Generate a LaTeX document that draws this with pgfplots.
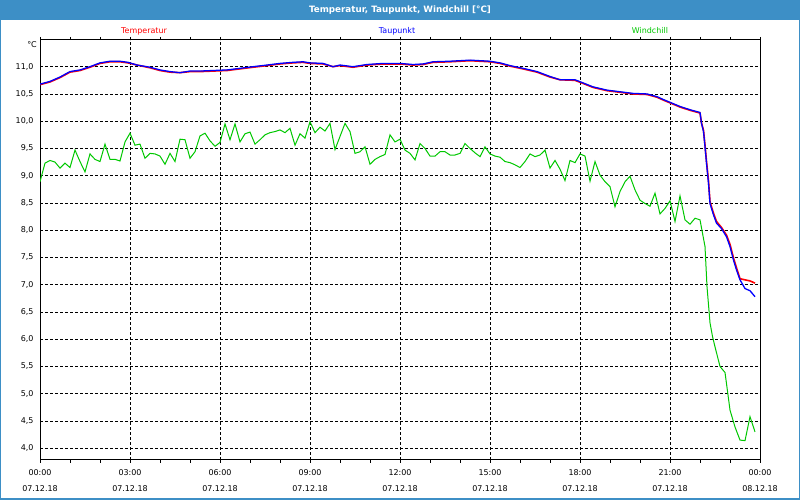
\documentclass[border=0pt]{standalone}
\usepackage{fontspec}
\setmainfont{DejaVu Sans}
\usepackage{pgfplots}
\pgfplotsset{compat=1.18}
\definecolor{barblue}{RGB}{61,143,198}
\definecolor{tcol}{RGB}{255,0,0}
\definecolor{dcol}{RGB}{0,0,255}
\definecolor{wcol}{RGB}{0,200,0}

% x in minutes since 07.12.18 00:00
\pgfplotstableread{
t v
0 10.67
20 10.72
40 10.80
60 10.90
80 10.93
100 10.99
120 11.06
140 11.09
160 11.09
176 11.07
194 11.03
220 10.98
240 10.93
260 10.90
280 10.89
300 10.91
320 10.91
346 10.92
374 10.93
400 10.96
426 10.99
454 11.02
480 11.05
506 11.07
526 11.08
540 11.06
566 11.05
586 11.00
600 11.02
626 10.99
654 11.03
686 11.05
720 11.05
746 11.03
766 11.04
786 11.08
820 11.09
860 11.11
900 11.09
920 11.06
940 11.01
966 10.96
994 10.90
1020 10.81
1040 10.76
1070 10.75
1084 10.70
1106 10.62
1134 10.56
1160 10.53
1186 10.50
1214 10.49
1234 10.44
1246 10.39
1280 10.26
1300 10.20
1320 10.15
1323 9.97
1327 9.83
1330 9.56
1333 9.26
1337 8.90
1340 8.52
1347 8.31
1353 8.16
1363 8.05
1373 7.91
1380 7.74
1387 7.49
1393 7.31
1400 7.11
1410 7.09
1420 7.07
1430 7.03
}\temptable

\pgfplotstableread{
t v
0 10.68
20 10.73
40 10.81
60 10.91
80 10.94
100 11.00
120 11.07
140 11.10
160 11.10
176 11.08
194 11.03
220 10.99
240 10.94
260 10.91
280 10.89
300 10.92
320 10.92
346 10.93
374 10.94
400 10.97
426 11.00
454 11.03
480 11.06
506 11.08
526 11.09
540 11.07
566 11.06
586 11.00
600 11.03
626 11.00
654 11.04
686 11.06
720 11.06
746 11.04
766 11.05
786 11.09
820 11.10
860 11.12
900 11.10
920 11.07
940 11.02
966 10.97
994 10.91
1020 10.82
1040 10.76
1070 10.76
1084 10.71
1106 10.63
1134 10.57
1160 10.54
1186 10.51
1214 10.50
1234 10.45
1246 10.40
1280 10.27
1300 10.21
1320 10.16
1323 9.96
1327 9.81
1330 9.53
1333 9.23
1337 8.86
1340 8.49
1347 8.28
1353 8.13
1363 8.03
1373 7.88
1380 7.70
1387 7.45
1393 7.27
1400 7.09
1410 6.93
1420 6.89
1430 6.78
}\dewtable

\pgfplotstableread{
t v
0 8.89
10 9.23
20 9.28
30 9.25
40 9.14
50 9.23
60 9.15
70 9.47
80 9.26
90 9.07
100 9.40
110 9.30
120 9.26
130 9.58
140 9.30
150 9.30
160 9.27
170 9.62
180 9.78
190 9.56
200 9.58
210 9.32
220 9.41
230 9.40
240 9.36
250 9.21
260 9.41
270 9.26
280 9.67
290 9.66
300 9.32
310 9.44
320 9.73
330 9.78
340 9.64
350 9.54
360 9.61
370 9.95
380 9.66
390 9.95
400 9.62
410 9.77
420 9.80
430 9.58
440 9.66
450 9.75
460 9.79
470 9.81
480 9.84
490 9.79
500 9.87
510 9.56
520 9.77
530 9.69
540 9.99
550 9.79
560 9.89
570 9.82
580 9.96
590 9.48
600 9.72
610 9.96
620 9.81
630 9.41
640 9.44
650 9.53
660 9.21
670 9.30
680 9.35
690 9.39
700 9.75
710 9.62
720 9.67
730 9.47
740 9.41
750 9.29
760 9.59
770 9.50
780 9.36
790 9.36
800 9.44
810 9.44
820 9.38
830 9.38
840 9.41
850 9.59
860 9.50
870 9.42
880 9.35
890 9.53
900 9.40
910 9.36
920 9.34
930 9.26
940 9.24
950 9.20
960 9.15
970 9.26
980 9.40
990 9.35
1000 9.38
1010 9.47
1020 9.14
1030 9.28
1040 9.12
1050 8.91
1060 9.28
1070 9.24
1080 9.40
1090 9.36
1100 8.90
1110 9.26
1120 9.01
1130 8.89
1140 8.80
1150 8.43
1160 8.71
1170 8.89
1180 8.99
1190 8.74
1200 8.55
1210 8.49
1220 8.44
1230 8.68
1240 8.30
1250 8.40
1260 8.54
1270 8.16
1280 8.63
1290 8.19
1300 8.11
1310 8.22
1320 8.19
1330 7.70
1334 6.96
1340 6.30
1345 6.05
1350 5.86
1360 5.50
1370 5.39
1380 4.70
1390 4.39
1400 4.15
1410 4.14
1420 4.58
1430 4.30
}\windtable

\begin{document}
\begin{tikzpicture}[x=1bp,y=1bp]
\fill[white] (0,0) rectangle (800,500);
\fill[barblue] (0,480) rectangle (800,500);
\draw[barblue, line width=1.5bp] (0.75,0.75) rectangle (799.25,499.25);
\node[white, font=\bfseries\fontsize{8.8}{10}\selectfont] at (400,490) {Temperatur, Taupunkt, Windchill [°C]};
\node[tcol, font=\fontsize{8}{9}\selectfont] at (144,469) {Temperatur};
\node[dcol, font=\fontsize{8}{9}\selectfont] at (397,469) {Taupunkt};
\node[wcol, font=\fontsize{8}{9}\selectfont] at (650,469) {Windchill};
\node[anchor=east, font=\fontsize{8}{9}\selectfont, inner sep=0pt] at (37,455) {°C};
\begin{axis}[
    at={(40bp,40bp)}, anchor=south west,
    scale only axis, width=720bp, height=420bp,
    xmin=0, xmax=1440, ymin=3.785, ymax=11.49,
    xtick={0,180,...,1440},
    minor x tick num=2,
    xticklabels={00:00\\07.12.18,03:00\\07.12.18,06:00\\07.12.18,09:00\\07.12.18,12:00\\07.12.18,15:00\\07.12.18,18:00\\07.12.18,21:00\\07.12.18,00:00\\08.12.18},
    xticklabel style={align=center, font=\fontsize{8}{15.5}\selectfont, yshift=-3.5bp},
    ytick={4,4.5,...,11},
    yticklabel style={font=\fontsize{8}{9}\selectfont,
        /pgf/number format/.cd, fixed, fixed zerofill, precision=1, use comma, assume math mode=true},
    grid=major,
    major grid style={black, line width=0.8bp, dash pattern=on 3bp off 2bp},
    axis line style={black, line width=1bp},
    tick align=outside,
    ytick style={draw=none},
    xtick style={black, line width=0.8bp},
    major tick length=3bp, minor tick length=3bp,
]
\addplot[tcol, line width=1.6bp] table[x=t, y=v] {\temptable};
\addplot[dcol, line width=1.3bp] table[x=t, y=v] {\dewtable};
\addplot[wcol, line width=1bp] table[x=t, y=v] {\windtable};
\end{axis}
\end{tikzpicture}
\end{document}
